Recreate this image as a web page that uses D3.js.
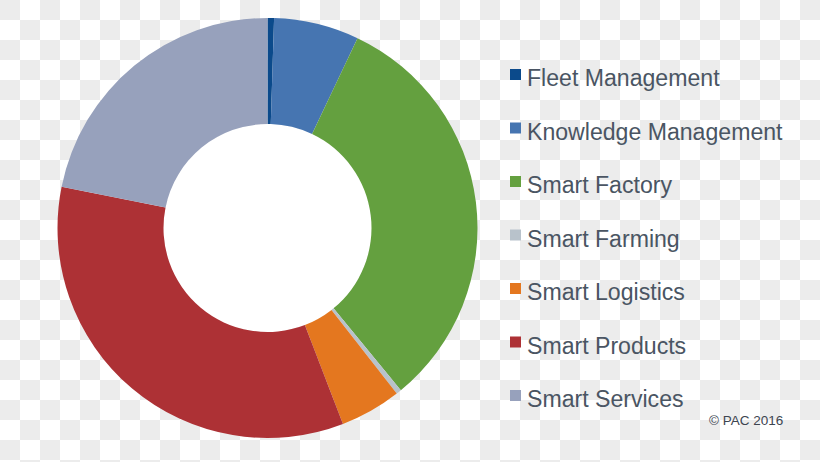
<!DOCTYPE html>
<html>
<head>
<meta charset="utf-8">
<script src="https://cdn.jsdelivr.net/npm/d3@7"></script>
<style>
html,body{margin:0;padding:0;background:#fff;}
svg{display:block;}
</style>
</head>
<body>
<svg id="chart" width="820" height="462"></svg>
<script>
const categories = ["Fleet Management","Knowledge Management","Smart Factory","Smart Farming","Smart Logistics","Smart Products","Smart Services"];
const values = [0.5, 6.55, 32.0, 0.4, 4.7, 34.0, 21.85];
const colors = ["#0b4a8b","#4675b1","#64a03f","#b8c2cb","#e4771f","#ad3135","#97a1bc"];
const credit = "© PAC 2016";

const W = 820, H = 462;
const svg = d3.select("#chart");

// checkerboard background
const defs = svg.append("defs");
const pat = defs.append("pattern").attr("id","checker").attr("width",40).attr("height",40).attr("patternUnits","userSpaceOnUse");
pat.append("rect").attr("width",40).attr("height",40).attr("fill","#ffffff");
pat.append("rect").attr("x",0).attr("y",0).attr("width",20).attr("height",20).attr("fill","#ececec");
pat.append("rect").attr("x",20).attr("y",20).attr("width",20).attr("height",20).attr("fill","#ececec");
svg.append("rect").attr("width",W).attr("height",H).attr("fill","url(#checker)");

const cx = 267.5, cy = 228, rOuter = 210, rInner = 104;
const pie = d3.pie().sort(null).value(d => d);
const arc = d3.arc().innerRadius(rInner).outerRadius(rOuter);
const color = d3.scaleOrdinal().domain(categories).range(colors);

const g = svg.append("g").attr("transform", `translate(${cx},${cy})`);
// white hole
g.append("circle").attr("r", rInner).attr("fill", "#ffffff");
g.selectAll("path.slice").data(pie(values)).enter().append("path")
  .attr("class","slice")
  .attr("d", arc)
  .attr("fill", (d,i) => color(categories[i]));

// legend
const legendY = d3.scalePoint().domain(categories).range([86, 407]);
const leg = svg.append("g");
const items = leg.selectAll("g.item").data(categories).enter().append("g")
  .attr("class","item")
  .attr("transform", d => `translate(510,${legendY(d)})`);
items.append("rect").attr("x",0).attr("y",-17).attr("width",11).attr("height",11)
  .attr("fill", d => color(d));
items.append("text").attr("x",17).attr("y",0)
  .attr("font-family","'Liberation Sans', Arial, sans-serif")
  .attr("font-size",23.1)
  .attr("fill","#4a5563")
  .text(d => d);

svg.append("text").attr("x",709).attr("y",425)
  .attr("font-family","'Liberation Sans', Arial, sans-serif")
  .attr("font-size",13.5)
  .attr("fill","#3d4550")
  .text(credit);
</script>
</body>
</html>
